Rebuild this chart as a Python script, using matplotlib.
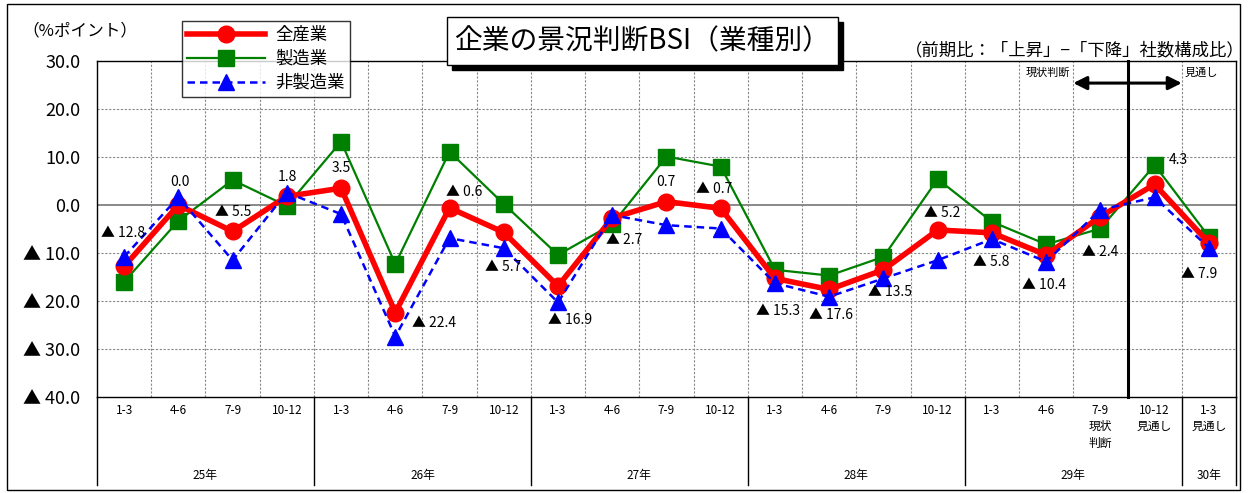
import numpy as np
import matplotlib.pyplot as plt
import matplotlib.transforms as mtransforms
from matplotlib.patches import Rectangle

plt.rcParams['font.family'] = ['Noto Sans CJK JP', 'DejaVu Sans']

# データ（▲はマイナス）
quarters = ['1-3', '4-6', '7-9', '10-12'] * 5 + ['1-3']
quarters[18] = '7-9\n現状\n判断'
quarters[19] = '10-12\n見通し'
quarters[20] = '1-3\n見通し'
years = ['25年', '26年', '27年', '28年', '29年', '30年']
year_len = [4, 4, 4, 4, 4, 1]

all_ind = [-12.8, 0.0, -5.5, 1.8, 3.5, -22.4, -0.6, -5.7, -16.9, -2.7, 0.7,
           -0.7, -15.3, -17.6, -13.5, -5.2, -5.8, -10.4, -2.4, 4.3, -7.9]
mfg = [-16.0, -3.3, 5.2, -0.2, 13.2, -12.3, 11.1, 0.2, -10.4, -4.0, 10.1,
       8.0, -13.5, -14.7, -10.8, 5.4, -3.5, -8.2, -4.9, 8.3, -6.6]
non_mfg = [-10.8, 1.6, -11.5, 2.6, -1.9, -27.4, -6.9, -9.0, -20.3, -2.1, -4.2,
           -4.9, -16.3, -19.1, -15.3, -11.5, -7.1, -11.8, -1.0, 1.6, -8.9]

# ラベル位置（ピクセルオフセット）
lab_off = [(-1, 33), (2, 23), (1, 19), (1, 19), (0, 20), (39, -10), (15, 16),
           (-1, -35), (12, -34), (12, -22), (-1, 20), (-7, 19), (3, -33),
           (2, -26), (7, -22), (4, 17), (-1, -29), (-2, -30), (0, -35),
           (24, 24), (-10, -31)]

x = np.arange(len(all_ind))

fig = plt.figure(figsize=(12.49, 4.93), dpi=100)
ax = fig.add_axes([97 / 1249, 1 - 397 / 493, (1236 - 97) / 1249, 336 / 493])

ax.set_xlim(-0.5, len(x) - 0.5)
ax.set_ylim(-40, 30)
ax.set_yticks(np.arange(-40, 31, 10))
ax.set_yticklabels([('▲ %.1f' % -v) if v < 0 else '%.1f' % v
                    for v in np.arange(-40, 31, 10)], fontsize=13)
ax.set_xticks([])
ax.tick_params(axis='y', length=0, pad=12)
for s in ax.spines.values():
    s.set_linewidth(1.0)

# グリッド
for v in np.arange(-30, 30, 10):
    if v == 0:
        ax.axhline(0, color='#808080', lw=1.3, zorder=1)
    else:
        ax.axhline(v, color='#888888', lw=0.8, ls=(0, (2, 1.5)), zorder=1)
for b in np.arange(0.5, len(x) - 0.5, 1):
    ax.axvline(b, color='#888888', lw=0.8, ls=(0, (2, 1.5)), zorder=1)

ax.plot(x, mfg, color='#008000', lw=1.6, marker='s', ms=11, zorder=3, label='製造業')
ax.plot(x, all_ind, color='#ff0000', lw=4, marker='o', ms=12, zorder=4, label='全産業')
ax.plot(x, non_mfg, color='#0000ff', lw=1.8, ls=(0, (3, 2)), marker='^', ms=11,
        zorder=5, label='非製造業')

for i, v in enumerate(all_ind):
    t = ('▲ %.1f' % -v) if v < 0 else '%.1f' % v
    ax.annotate(t, (i, v), xytext=lab_off[i], textcoords='offset pixels',
                ha='center', va='center', fontsize=10, zorder=6)

# 現状判断 / 見通し
ax.plot([18.5, 18.5], [-40, 30], color='black', lw=2.2, zorder=6, clip_on=False)
ax.annotate('', xy=(17.5, 25.4), xytext=(19.5, 25.4),
            arrowprops=dict(arrowstyle='<|-|>', color='black', lw=2.2,
                            mutation_scale=20, shrinkA=0, shrinkB=0), zorder=6)
ax.text(17.45, 27.6, '現状判断', ha='right', va='center', fontsize=8)
ax.text(19.55, 27.6, '見通し', ha='left', va='center', fontsize=8)

# 横軸ラベル
trans = mtransforms.blended_transform_factory(ax.transData, ax.transAxes)
for i, q in enumerate(quarters):
    ax.text(i, -0.02, q, transform=trans, ha='center', va='top', fontsize=8.5,
            linespacing=1.35)
start = 0
bounds = [-0.5]
for y, n in zip(years, year_len):
    ax.text(start + (n - 1) / 2, -0.235, y, transform=trans, ha='center',
            va='center', fontsize=8.5)
    start += n
    bounds.append(start - 0.5)
for b in bounds:
    ax.plot([b, b], [0, -0.262], transform=trans, color='black', lw=1.0,
            clip_on=False)

# 凡例
h, l = ax.get_legend_handles_labels()
order = [1, 0, 2]
leg = fig.legend([h[k] for k in order], [l[k] for k in order],
                 loc='upper left', bbox_to_anchor=(173 / 1249, 1 - 12 / 493),
                 fontsize=12.5, frameon=True, fancybox=False, edgecolor='black',
                 handlelength=4.5, borderpad=0.3, labelspacing=0.35,
                 handletextpad=0.6)
leg.get_frame().set_linewidth(1.0)

# タイトル
fig.text(22 / 1249, 1 - 31 / 493, '（%ポイント）', fontsize=12, va='center')
fig.patches.append(Rectangle((452 / 1249, 1 - 70 / 493), 391 / 1249, 48 / 493,
                             transform=fig.transFigure, facecolor='black',
                             edgecolor='black', zorder=7))
fig.patches.append(Rectangle((447 / 1249, 1 - 65 / 493), 391 / 1249, 48 / 493,
                             transform=fig.transFigure, facecolor='white',
                             edgecolor='black', lw=1.0, zorder=8))
fig.text(642 / 1249, 1 - 41 / 493, '企業の景況判断BSI（業種別）', fontsize=20,
         ha='center', va='center', zorder=9)
fig.text(1245 / 1249, 1 - 50 / 493, '（前期比：「上昇」−「下降」社数構成比）',
         fontsize=12.5, ha='right', va='center')

# 外枠
fig.patches.append(Rectangle((7 / 1249, 1 - 490 / 493), 1233 / 1249, 486 / 493,
                             transform=fig.transFigure, facecolor='none',
                             edgecolor='black', lw=1.0))

fig.savefig('out.png', dpi=100)
